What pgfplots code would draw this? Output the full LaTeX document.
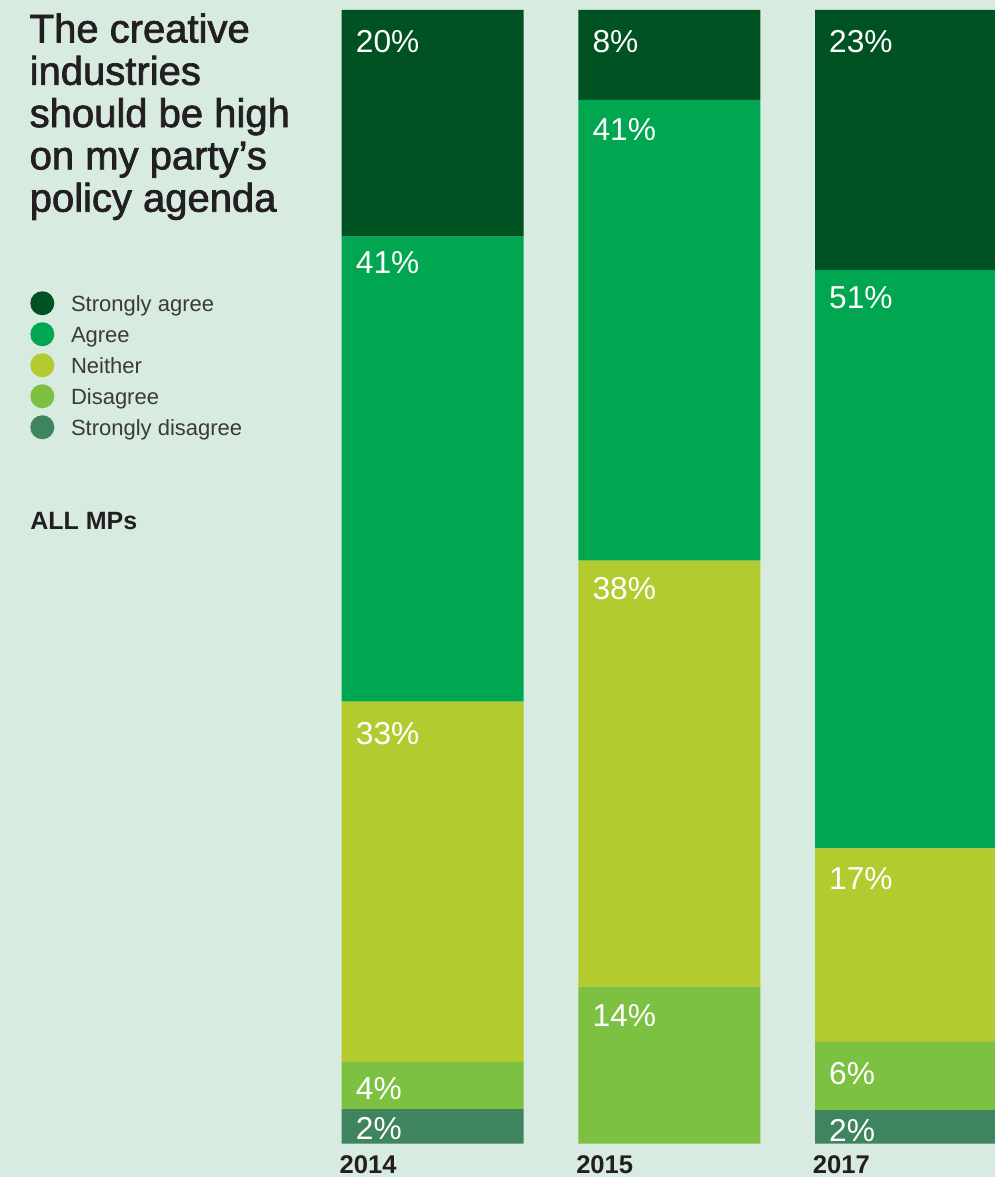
\documentclass[border=0pt]{standalone}
\usepackage{pgfplots}
\pgfplotsset{compat=1.18}
\usepackage{pgfplotstable}
\usepackage{fontspec}
\setmainfont{Liberation Sans}
\newfontfamily\titlefont{Liberation Sans}[FakeBold=1.8]

\definecolor{bgc}{HTML}{D7EBE0}
\definecolor{saC}{HTML}{005223}
\definecolor{aC}{HTML}{00A650}
\definecolor{nC}{HTML}{B3CB2F}
\definecolor{dC}{HTML}{7DC142}
\definecolor{sdC}{HTML}{3E845E}
\definecolor{titlec}{HTML}{231F20}
\definecolor{legc}{HTML}{3A3A3A}

\pgfplotsset{mycirc/.style={legend image code/.code={\fill[##1] (0pt,0pt) circle (6pt);}}}

% columns: x position, segment height, segment top (cumulative), label, label offset below segment top (pt)
\pgfplotstableread{
x y top lab off
0 3.06 3.06 2\% 3.85
1 0 0 {} 0
2 2.97 2.97 2\% 4.5
}\tSD
\pgfplotstableread{
x y top lab off
0 4.15 7.21 4\% 7.35
1 13.85 13.85 14\% 8.8
2 6.02 8.99 6\% 10
}\tD
\pgfplotstableread{
x y top lab off
0 31.78 38.99 33\% 10.3
1 37.58 51.43 38\% 8
2 17.06 26.05 17\% 9.5
}\tN
\pgfplotstableread{
x y top lab off
0 41.02 80.01 41\% 7.15
1 40.64 92.07 41\% 9.15
2 51.01 77.06 51\% 8
}\tA
\pgfplotstableread{
x y top lab off
0 19.99 100 20\% 10
1 7.93 100 8\% 10
2 22.94 100 23\% 10
}\tSA

\pgfplotsset{geom/.style={
  at={(0pt,0pt)}, anchor=south west,
  scale only axis, width=497.5pt, height=566.85pt,
  xmin=-1.8285, xmax=2.3761, ymin=0, ymax=100}}

\begin{document}
\begin{tikzpicture}
\path[use as bounding box, fill=bgc] (0pt,-16.65pt) rectangle (497.5pt,571.85pt);
\begin{axis}[
  geom,
  ybar stacked, bar width=91pt,
  axis line style={draw=none}, tick style={draw=none},
  ytick=\empty, xtick={0,1,2}, xticklabels={2014,2015,2017},
  xticklabel style={anchor=north west, inner sep=0pt, xshift=-46.75pt, yshift=-5.65pt,
    font=\bfseries\fontsize{12.8}{14}\selectfont, text=titlec},
  legend style={at={(0.03045,0.7519)}, anchor=north west, draw=none, fill=none,
    inner sep=0pt, outer sep=0pt, row sep=3.5pt, column sep=8.35pt,
    nodes={inner sep=0pt, text height=7.85pt, text depth=0pt,
      font=\fontsize{11}{13}\selectfont, text=legc}},
  legend cell align=left,
  reverse legend,
]
\addplot[fill=sdC, draw=none, mycirc] table[x=x,y=y]{\tSD};
\addlegendentry{Strongly disagree}
\addplot[fill=dC, draw=none, mycirc] table[x=x,y=y]{\tD};
\addlegendentry{Disagree}
\addplot[fill=nC, draw=none, mycirc] table[x=x,y=y]{\tN};
\addlegendentry{Neither}
\addplot[fill=aC, draw=none, mycirc] table[x=x,y=y]{\tA};
\addlegendentry{Agree}
\addplot[fill=saC, draw=none, mycirc] table[x=x,y=y]{\tSA};
\addlegendentry{Strongly agree}
\end{axis}
% value labels, placed at the top of each segment
\begin{axis}[
  geom, hide axis, clip=false,
  point meta=explicit symbolic,
  nodes near coords,
  nodes near coords align={anchor=north west},
  visualization depends on={\thisrow{off} \as \myoff},
  every node near coord/.append style={font=\fontsize{15.85}{18}\selectfont, text=white,
    inner sep=0pt, anchor=north west, xshift=-38.6pt, yshift=-\myoff pt},
]
\addplot[only marks, mark=none] table[x=x,y=top,meta=lab]{\tSD};
\addplot[only marks, mark=none] table[x=x,y=top,meta=lab]{\tD};
\addplot[only marks, mark=none] table[x=x,y=top,meta=lab]{\tN};
\addplot[only marks, mark=none] table[x=x,y=top,meta=lab]{\tA};
\addplot[only marks, mark=none] table[x=x,y=top,meta=lab]{\tSA};
\end{axis}
\node[anchor=north west, inner sep=0pt, align=left,
  font=\titlefont\fontsize{20}{21.15}\selectfont, text=titlec]
  at (14.65pt,565.3pt) {The creative\\industries\\should be high\\on my party’s\\policy agenda};
\node[anchor=base west, inner sep=0pt, font=\bfseries\fontsize{12.5}{15}\selectfont, text=titlec]
  at (15pt,306.85pt) {ALL MPs};
\end{tikzpicture}
\end{document}
